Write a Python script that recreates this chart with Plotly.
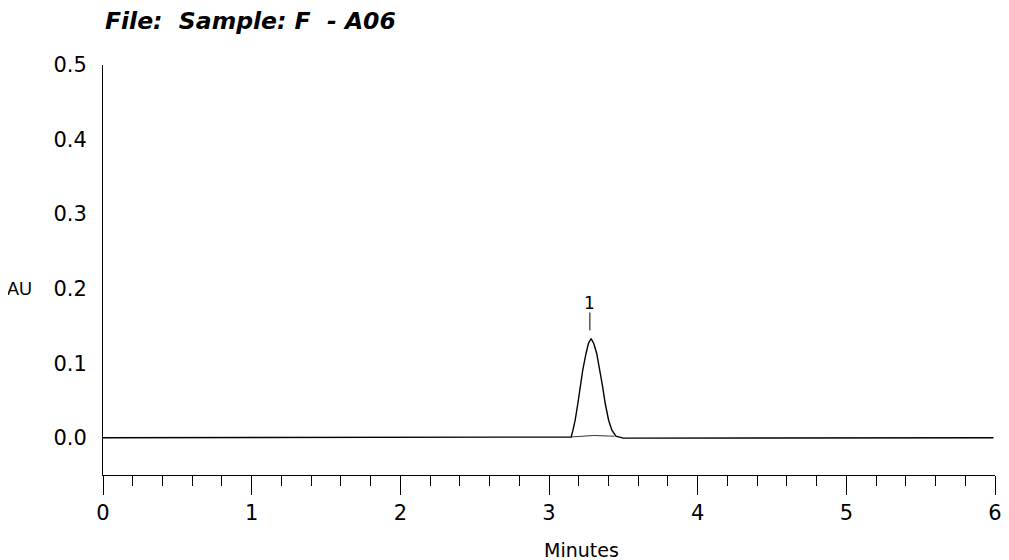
import plotly.graph_objects as go

# Chromatogram trace (minutes, AU)
time_min = [0.0, 1.0, 2.0, 3.0, 3.10, 3.149, 3.161, 3.176, 3.194, 3.209, 3.227, 3.249, 3.265, 3.283,
            3.301, 3.321, 3.343, 3.361, 3.378, 3.401, 3.423, 3.450, 3.50, 3.60, 4.0, 5.0, 5.99]
absorbance = [0.0, 0.0, 0.0, 0.0, 0.0, 0.001, 0.0101, 0.0235, 0.0459, 0.0682, 0.0906, 0.113, 0.1264, 0.133,
              0.1264, 0.113, 0.0906, 0.0682, 0.0459, 0.0235, 0.0101, 0.002, -0.0005, -0.0005, -0.0003, 0.0, 0.0]

# Integration baseline under peak 1
base_time = [3.149, 3.30, 3.44]
base_au = [0.001, 0.003, 0.002]

# Peak label
peak_names = ["1"]
peak_times = [3.275]
peak_marker_top = [0.168]
peak_marker_bottom = [0.144]
peak_label_y = [0.181]

x_ticks = [0, 1, 2, 3, 4, 5, 6]
y_ticks = [0.0, 0.1, 0.2, 0.3, 0.4, 0.5]

FONT = "DejaVu Sans, Verdana, sans-serif"
FONT_NARROW = "Liberation Sans, Arial, sans-serif"

fig = go.Figure()
fig.add_trace(go.Scatter(x=time_min, y=absorbance, mode="lines",
                         line=dict(color="black", width=1.4), hoverinfo="skip", showlegend=False))
fig.add_trace(go.Scatter(x=base_time, y=base_au, mode="lines",
                         line=dict(color="black", width=0.8), hoverinfo="skip", showlegend=False))
for name, t, top, bot, ly in zip(peak_names, peak_times, peak_marker_top, peak_marker_bottom, peak_label_y):
    fig.add_trace(go.Scatter(x=[t, t], y=[bot, top], mode="lines",
                             line=dict(color="black", width=1), hoverinfo="skip", showlegend=False))
    fig.add_annotation(x=t, y=ly, text=name, showarrow=False,
                       font=dict(family=FONT, size=17, color="black"))

# The page body adds an 8px margin, so the figure is 8px smaller than the window
fig.update_layout(
    width=1001, height=552,
    margin=dict(l=95, r=7, t=57, b=85),
    paper_bgcolor="white", plot_bgcolor="white",
    showlegend=False,
    font=dict(family=FONT, size=20, color="black"),
    xaxis=dict(range=[0, 6], tickvals=x_ticks, ticktext=[str(v) for v in x_ticks],
               showgrid=False, zeroline=False, showline=True, linecolor="black", linewidth=1,
               ticks="outside", ticklen=19, tickwidth=1, tickcolor="black",
               minor=dict(dtick=0.2, ticks="outside", ticklen=10, tickwidth=1, tickcolor="black", showgrid=False),
               tickfont=dict(family=FONT, size=21, color="black")),
    yaxis=dict(range=[-0.05, 0.5], tickvals=y_ticks, ticktext=[f"{v:.1f}" for v in y_ticks],
               showgrid=False, zeroline=False, showline=True, linecolor="black", linewidth=1,
               ticks="", ticklabelstandoff=11,
               tickfont=dict(family=FONT, size=21, color="black")),
)

fig.add_annotation(xref="paper", yref="paper", x=0.536, y=-0.183, yanchor="middle",
                   text="Minutes", showarrow=False, font=dict(family=FONT, size=19, color="black"))
fig.add_annotation(xref="paper", yref="y", x=-0.077, xanchor="right", y=0.2, yanchor="middle",
                   text="AU", showarrow=False, font=dict(family=FONT_NARROW, size=18, color="black"))
fig.add_annotation(xref="paper", yref="paper", x=0.0, xanchor="left", y=1.108, yanchor="middle",
                   text="<b><i>File:\u00a0 Sample: F\u00a0 - A06</i></b>", showarrow=False,
                   font=dict(family=FONT, size=23.5, color="black"))

fig.write_html("out.html")
